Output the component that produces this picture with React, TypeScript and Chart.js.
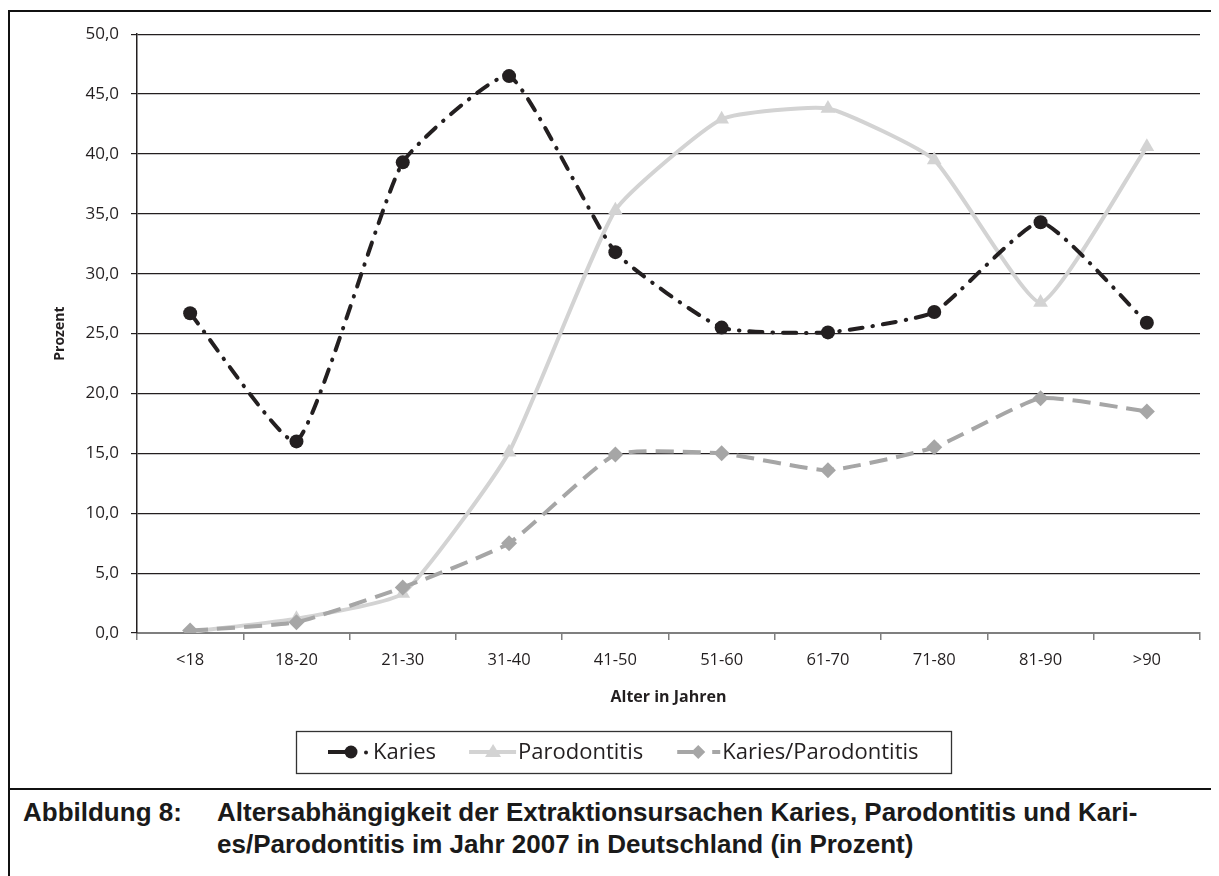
import React, { useEffect, useRef } from "react";
import { Chart, registerables } from "chart.js";

Chart.register(...registerables);

const categories = ["<18", "18-20", "21-30", "31-40", "41-50", "51-60", "61-70", "71-80", "81-90", ">90"];
const karies = [26.7, 16.0, 39.3, 46.5, 31.8, 25.5, 25.1, 26.8, 34.3, 25.9];
const parodontitis = [0.1, 1.2, 3.3, 15.1, 35.3, 42.9, 43.8, 39.5, 27.6, 40.6];
const kariesParodontitis = [0.2, 0.9, 3.8, 7.5, 14.9, 15.0, 13.6, 15.5, 19.6, 18.5];
const seriesNames = ["Karies", "Parodontitis", "Karies/Parodontitis"];
const yTicks = [0, 5, 10, 15, 20, 25, 30, 35, 40, 45, 50];

const FONT = "'Open Sans', 'Noto Sans', sans-serif";
const DARK = "#231f20";
const COL_K = "#231f20";
const COL_P = "#d3d3d3";
const COL_KP = "#a6a6a6";

function drawIcon(ctx: CanvasRenderingContext2D, kind: number, x: number, y: number) {
  ctx.save();
  ctx.lineWidth = 4;
  if (kind === 0) {
    ctx.strokeStyle = COL_K;
    ctx.fillStyle = COL_K;
    ctx.beginPath();
    ctx.moveTo(x, y);
    ctx.lineTo(x + 18, y);
    ctx.stroke();
    ctx.beginPath();
    ctx.arc(x + 23, y, 6.5, 0, Math.PI * 2);
    ctx.fill();
    ctx.beginPath();
    ctx.arc(x + 38, y + 0.5, 2, 0, Math.PI * 2);
    ctx.fill();
  } else if (kind === 1) {
    ctx.strokeStyle = COL_P;
    ctx.fillStyle = COL_P;
    ctx.beginPath();
    ctx.moveTo(x, y);
    ctx.lineTo(x + 47, y);
    ctx.stroke();
    ctx.beginPath();
    ctx.moveTo(x + 24, y - 8);
    ctx.lineTo(x + 32, y + 5);
    ctx.lineTo(x + 16, y + 5);
    ctx.closePath();
    ctx.fill();
  } else {
    ctx.strokeStyle = COL_KP;
    ctx.fillStyle = COL_KP;
    ctx.beginPath();
    ctx.moveTo(x, y);
    ctx.lineTo(x + 16, y);
    ctx.moveTo(x + 35, y);
    ctx.lineTo(x + 43, y);
    ctx.stroke();
    ctx.beginPath();
    ctx.moveTo(x + 21, y - 7);
    ctx.lineTo(x + 28, y);
    ctx.lineTo(x + 21, y + 7);
    ctx.lineTo(x + 14, y);
    ctx.closePath();
    ctx.fill();
  }
  ctx.restore();
}

const legendPlugin = {
  id: "boxedLegend",
  afterDraw(chart: any) {
    const ctx: CanvasRenderingContext2D = chart.ctx;
    const iconW = [41, 47, 43];
    const iconGap = [4, 2, 2];
    const itemGap = [33, 34];
    const padX = 32;
    ctx.save();
    ctx.font = `22px ${FONT}`;
    const textW = chart.data.datasets.map((d: any) => ctx.measureText(d.label).width);
    let total = padX * 2;
    for (let i = 0; i < 3; i++) total += iconW[i] + iconGap[i] + textW[i];
    total += itemGap[0] + itemGap[1];
    const cx = chart.width / 2 + 11;
    const left = Math.round(cx - total / 2);
    const top = 719;
    const h = 42;
    const midY = top + h / 2;
    ctx.strokeStyle = "#333";
    ctx.lineWidth = 1.3;
    ctx.strokeRect(left + 0.5, top + 0.5, Math.round(total), h);
    let x = left + padX;
    ctx.fillStyle = DARK;
    ctx.textBaseline = "middle";
    ctx.textAlign = "left";
    for (let i = 0; i < 3; i++) {
      drawIcon(ctx, i, x, midY);
      x += iconW[i] + iconGap[i];
      ctx.fillStyle = DARK;
      ctx.fillText(chart.data.datasets[i].label, x, midY + 1);
      x += textW[i];
      if (i < 2) x += itemGap[i];
    }
    ctx.restore();
  },
};

export default function App() {
  const ref = useRef<HTMLCanvasElement>(null);
  useEffect(() => {
    if (!ref.current) return;
    const chart = new Chart(ref.current, {
      type: "line",
      data: {
        labels: categories,
        datasets: [
          {
            label: seriesNames[0],
            data: karies,
            borderColor: COL_K,
            backgroundColor: COL_K,
            borderWidth: 4,
            borderDash: [13, 10, 0.5, 10],
            borderCapStyle: "round",
            pointStyle: "circle",
            pointRadius: 7,
            pointBorderWidth: 0,
            tension: 0.15,
            order: 0,
          },
          {
            label: seriesNames[1],
            data: parodontitis,
            borderColor: COL_P,
            backgroundColor: COL_P,
            borderWidth: 4,
            pointStyle: "triangle",
            pointRadius: 8.5,
            pointBorderWidth: 0,
            tension: 0.15,
            order: 2,
          },
          {
            label: seriesNames[2],
            data: kariesParodontitis,
            borderColor: COL_KP,
            backgroundColor: COL_KP,
            borderWidth: 4,
            borderDash: [18, 9],
            pointStyle: "rectRot",
            pointRadius: 8,
            pointBorderWidth: 0,
            tension: 0.15,
            order: 1,
          },
        ],
      },
      options: {
        animation: false,
        responsive: false,
        layout: { padding: { top: 21, right: 15, left: 0, bottom: 0 } },
        plugins: {
          tooltip: { enabled: false },
          legend: { display: false },
        },
        scales: {
          x: {
            offset: true,
            afterFit: (axis: any) => {
              axis.height = 155;
            },
            grid: {
              offset: true,
              drawOnChartArea: false,
              drawTicks: true,
              tickLength: 7,
              color: "#7f7f7f",
              lineWidth: 1.5,
            },
            border: { color: "#7f7f7f", width: 2 },
            ticks: { color: DARK, font: { family: FONT, size: 16.5 }, padding: 10 },
            title: {
              display: true,
              text: "Alter in Jahren",
              color: DARK,
              font: { family: FONT, size: 16, weight: "bold" },
              padding: { top: 0, bottom: 81 },
            },
          },
          y: {
            min: 0,
            max: 50,
            afterFit: (axis: any) => {
              axis.width = 127;
            },
            afterBuildTicks: (axis: any) => {
              axis.ticks = yTicks.map((v) => ({ value: v }));
            },
            grid: { color: "#231f20", lineWidth: 1.2, tickLength: 6 },
            border: { color: "#231f20", width: 1.5 },
            ticks: {
              color: DARK,
              font: { family: FONT, size: 17 },
              padding: 12,
              callback: (v: any) => Number(v).toFixed(1).replace(".", ","),
            },
            title: {
              display: true,
              text: "Prozent",
              color: DARK,
              font: { family: FONT, size: 14, weight: "bold" },
              padding: { top: 42, bottom: 0 },
            },
          },
        },
      },
      plugins: [legendPlugin],
    } as any);
    return () => chart.destroy();
  }, []);

  return (
    <div style={{ marginTop: 2, width: 1205, border: "2px solid #111", fontFamily: "'Liberation Sans', Arial, sans-serif" }}>
      <canvas ref={ref} width={1205} height={776} style={{ display: "block", width: 1205, height: 776 }} />
      <div style={{ borderTop: "2px solid #111", padding: "6px 0 40px 0" }}>
        <div style={{ display: "flex", fontWeight: "bold", fontSize: 26, lineHeight: "32px", color: "#1a1a1a" }}>
          <div style={{ width: 194, paddingLeft: 13, flex: "none" }}>Abbildung 8:</div>
          <div style={{ whiteSpace: "nowrap" }}>
            Altersabhängigkeit der Extraktionsursachen Karies, Parodontitis und Kari-
            <br />
            es/Parodontitis im Jahr 2007 in Deutschland (in Prozent)
          </div>
        </div>
      </div>
    </div>
  );
}
